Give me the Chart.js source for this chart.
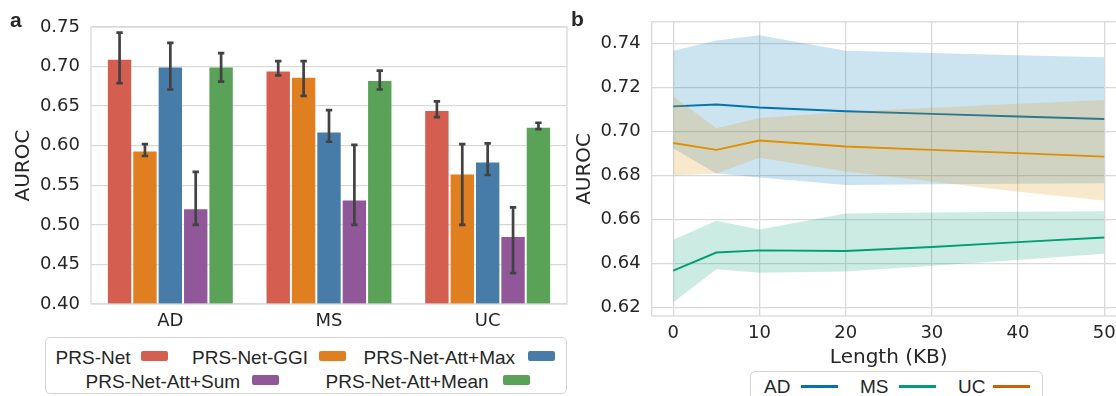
<!DOCTYPE html>
<html><head><meta charset="utf-8">
<script src="https://cdn.jsdelivr.net/npm/chart.js@4/dist/chart.umd.min.js"></script>
<style>
html,body{margin:0;padding:0;background:#fff;}
body{width:1116px;height:396px;overflow:hidden;position:relative;font-family:'Liberation Sans',Arial,sans-serif;color:#262626;}
canvas{position:absolute;}
#c1{left:0;top:0;}
#c2{left:560px;top:0;}
.lbl{position:absolute;font-weight:bold;font-size:21px;line-height:21px;}
.box{position:absolute;border:1.3px solid #d2d2d2;border-radius:5px;background:#fff;box-sizing:border-box;}
.t{position:absolute;font-size:19px;line-height:19px;white-space:nowrap;}
.sw{position:absolute;width:27px;height:10px;border-radius:2px;}
.ln{position:absolute;width:37px;height:2.6px;}
</style></head>
<body>
<canvas id="c1" width="580" height="340"></canvas>
<canvas id="c2" width="580" height="370"></canvas>
<div class="lbl" style="left:10px;top:9px">a</div>
<div class="lbl" style="left:571px;top:8px">b</div>
<div id="leg1" class="box" style="left:45px;top:337px;width:522px;height:57px"></div>
<div id="leg2" class="box" style="left:750px;top:371px;width:293px;height:40px"></div>
<script>
// ---------- Panel a data ----------
const categories = ['AD', 'MS', 'UC'];
const models = ['PRS-Net', 'PRS-Net-GGI', 'PRS-Net-Att+Max', 'PRS-Net-Att+Sum', 'PRS-Net-Att+Mean'];
const prsNet      = [0.710, 0.695, 0.645];
const prsNetLo    = [0.679, 0.689, 0.636];
const prsNetHi    = [0.743, 0.707, 0.656];
const prsGGI      = [0.594, 0.687, 0.565];
const prsGGILo    = [0.587, 0.663, 0.500];
const prsGGIHi    = [0.602, 0.707, 0.602];
const attMax      = [0.700, 0.618, 0.580];
const attMaxLo    = [0.671, 0.605, 0.563];
const attMaxHi    = [0.730, 0.645, 0.603];
const attSum      = [0.521, 0.532, 0.486];
const attSumLo    = [0.500, 0.500, 0.439];
const attSumHi    = [0.567, 0.601, 0.522];
const attMean     = [0.700, 0.683, 0.624];
const attMeanLo   = [0.681, 0.671, 0.621];
const attMeanHi   = [0.717, 0.695, 0.629];
const leftYTicks  = [0.40, 0.45, 0.50, 0.55, 0.60, 0.65, 0.70, 0.75];

// ---------- Panel b data ----------
const lengths  = [0, 5, 10, 20, 30, 40, 50];
const adMean   = [0.7113, 0.7122, 0.7108, 0.7091, 0.7079, 0.7067, 0.7056];
const adUpper  = [0.7366, 0.7412, 0.7436, 0.7366, 0.7355, 0.7345, 0.7336];
const adLower  = [0.6923, 0.6809, 0.6791, 0.6757, 0.6760, 0.6762, 0.6764];
const msMean   = [0.6368, 0.6450, 0.6460, 0.6457, 0.6475, 0.6497, 0.6518];
const msUpper  = [0.6508, 0.6594, 0.6554, 0.6627, 0.6632, 0.6635, 0.6637];
const msLower  = [0.6223, 0.6374, 0.6358, 0.6364, 0.6390, 0.6416, 0.6445];
const ucMean   = [0.6947, 0.6916, 0.6958, 0.6931, 0.6916, 0.6901, 0.6885];
const ucUpper  = [0.7158, 0.7014, 0.7061, 0.7088, 0.7107, 0.7125, 0.7142];
const ucLower  = [0.6800, 0.6809, 0.6880, 0.6818, 0.6772, 0.6726, 0.6686];
const rightYTicks = [0.62, 0.64, 0.66, 0.68, 0.70, 0.72, 0.74];
const rightXTicks = [0, 10, 20, 30, 40, 50];
const diseases = ['AD', 'MS', 'UC'];

// ---------- styles ----------
const barColors = ['#d45f50', '#df7f20', '#477ca8', '#905898', '#59a257'];
const lineColors = ['#0173b2', '#029e73', '#de8f05'];
const bandColors = ['rgba(1,115,178,0.2)', 'rgba(2,158,115,0.2)', 'rgba(222,143,5,0.2)'];
const legendLineColors = ['#0173b2', '#029e73', '#d55e00'];
const TXT = '#262626', GRID = '#d9d9d9';

Chart.defaults.font.family = "'DejaVu Sans', sans-serif";
Chart.defaults.color = TXT;
Chart.defaults.animation = false;

const framePlugin = {
  id: 'frame',
  afterDatasetsDraw(chart) {
    const a = chart.chartArea, c = chart.ctx;
    c.save(); c.strokeStyle = GRID; c.lineWidth = 1.3;
    c.strokeRect(a.left, a.top, a.right - a.left, a.bottom - a.top);
    c.restore();
  }
};

const seriesVals = [prsNet, prsGGI, attMax, attSum, attMean];
const seriesLo = [prsNetLo, prsGGILo, attMaxLo, attSumLo, attMeanLo];
const seriesHi = [prsNetHi, prsGGIHi, attMaxHi, attSumHi, attMeanHi];

const errPlugin = {
  id: 'err',
  afterDatasetsDraw(chart) {
    const c = chart.ctx, y = chart.scales.y;
    c.save(); c.strokeStyle = '#424242'; c.lineWidth = 2.7; c.lineCap = 'butt';
    chart.data.datasets.forEach((ds, d) => {
      const meta = chart.getDatasetMeta(d);
      meta.data.forEach((bar, i) => {
        const x = bar.x, y1 = y.getPixelForValue(seriesLo[d][i]), y2 = y.getPixelForValue(seriesHi[d][i]);
        c.beginPath();
        c.moveTo(x, y1); c.lineTo(x, y2);
        c.moveTo(x - 3.2, y1); c.lineTo(x + 3.2, y1);
        c.moveTo(x - 3.2, y2); c.lineTo(x + 3.2, y2);
        c.stroke();
      });
    });
    c.restore();
  }
};

new Chart(document.getElementById('c1'), {
  type: 'bar',
  data: {
    labels: categories,
    datasets: models.map((m, k) => ({
      label: m, data: seriesVals[k], backgroundColor: barColors[k],
      borderColor: 'rgba(255,255,255,0.55)', borderWidth: 1, borderSkipped: false,
      categoryPercentage: 0.8, barPercentage: 1.0
    }))
  },
  options: {
    responsive: false, devicePixelRatio: 1,
    layout: { padding: { top: 27, right: 13, left: 0, bottom: 0 } },
    plugins: { legend: { display: false }, tooltip: { enabled: false } },
    scales: {
      x: {
        grid: { display: false, drawTicks: false },
        border: { display: false },
        ticks: { font: { size: 18 }, padding: 7, color: TXT },
        afterFit(s) { s.height = 36; }
      },
      y: {
        min: 0.40, max: 0.75,
        grid: { color: GRID, lineWidth: 1.3, drawTicks: false },
        border: { display: false },
        ticks: { font: { size: 18 }, padding: 11, color: TXT, callback: v => Number(v).toFixed(2) },
        afterBuildTicks(s) { s.ticks = leftYTicks.map(v => ({ value: v })); },
        title: { display: true, text: 'AUROC', font: { size: 20 }, color: TXT, padding: { top: 12, bottom: 0 } },
        afterFit(s) { s.width = 91; }
      }
    }
  },
  plugins: [framePlugin, errPlugin]
});

const toXY = (ys) => ys.map((v, i) => ({ x: lengths[i], y: v }));
const means = [adMean, msMean, ucMean], uppers = [adUpper, msUpper, ucUpper], lowers = [adLower, msLower, ucLower];
const ds2 = [];
diseases.forEach((d, k) => {
  const base = ds2.length;
  ds2.push({ label: d + ' upper', data: toXY(uppers[k]), borderWidth: 0, pointRadius: 0, tension: 0,
    backgroundColor: bandColors[k], fill: { target: base + 1 }, order: 10 - 2 * k });
  ds2.push({ label: d + ' lower', data: toXY(lowers[k]), borderWidth: 0, pointRadius: 0, tension: 0,
    fill: false, order: 10 - 2 * k });
  ds2.push({ label: d, data: toXY(means[k]), borderColor: lineColors[k], borderWidth: 1.9, pointRadius: 0,
    tension: 0, fill: false, order: 9 - 2 * k });
});

new Chart(document.getElementById('c2'), {
  type: 'line',
  data: { datasets: ds2 },
  options: {
    responsive: false, devicePixelRatio: 1,
    layout: { padding: { top: 16.7, right: 14.2, left: 0, bottom: 0 } },
    plugins: { legend: { display: false }, tooltip: { enabled: false } },
    scales: {
      x: {
        type: 'linear', min: -2.5, max: 52.5,
        grid: { color: GRID, lineWidth: 1.3, drawTicks: false },
        border: { display: false },
        ticks: { font: { size: 18 }, padding: 7, color: TXT },
        afterBuildTicks(s) { s.ticks = rightXTicks.map(v => ({ value: v })); },
        title: { display: true, text: 'Length (KB)', font: { size: 20 }, color: TXT, padding: { top: 0, bottom: 0 } },
        afterFit(s) { s.height = 54; }
      },
      y: {
        min: 0.6162, max: 0.7497,
        grid: { color: GRID, lineWidth: 1.3, drawTicks: false },
        border: { display: false },
        ticks: { font: { size: 18 }, padding: 11, color: TXT, callback: v => Number(v).toFixed(2) },
        afterBuildTicks(s) { s.ticks = rightYTicks.map(v => ({ value: v })); },
        title: { display: true, text: 'AUROC', font: { size: 20 }, color: TXT, padding: { top: 13, bottom: 0 } },
        afterFit(s) { s.width = 91.7; }
      }
    }
  },
  plugins: [framePlugin]
});

// ---------- legends (HTML) ----------
function addText(parent, txt, x, y) {
  const e = document.createElement('div'); e.className = 't'; e.textContent = txt;
  e.style.left = x + 'px'; e.style.top = y + 'px'; document.body.appendChild(e);
}
function addSwatch(cls, color, x, y) {
  const e = document.createElement('div'); e.className = cls; e.style.background = color;
  e.style.left = x + 'px'; e.style.top = y + 'px'; document.body.appendChild(e);
}
const leg1Pos = [[55.6, 348, 141, 351], [192, 348, 319, 351], [363.6, 348, 528, 351], [85.5, 372, 252, 375], [325.5, 372, 503, 375]];
models.forEach((m, k) => {
  const p = leg1Pos[k];
  addText(null, m, p[0], p[1]);
  addSwatch('sw', barColors[k], p[2], p[3]);
});
const leg2Pos = [[764, 800.7], [860, 898.7], [958, 993]];
diseases.forEach((d, k) => {
  const p = leg2Pos[k];
  addText(null, d, p[0], 377);
  addSwatch('ln', legendLineColors[k], p[1], 385);
});
</script>
</body></html>
